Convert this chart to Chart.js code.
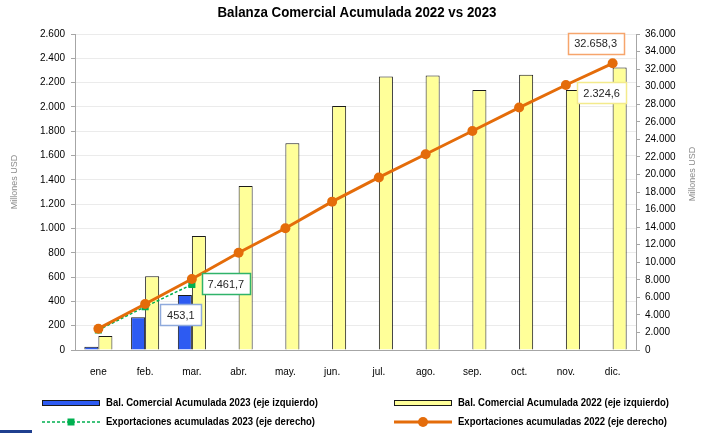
<!DOCTYPE html>
<html>
<head>
<meta charset="utf-8">
<script src="https://cdn.jsdelivr.net/npm/chart.js@4.4.1/dist/chart.umd.min.js"></script>
<style>
    html, body { margin: 0; padding: 0; background: #ffffff; }
    #wrap { position: relative; width: 707px; height: 433px; }
    #corner { position: absolute; left: 0; top: 430px; width: 32px; height: 3px; background: #1f3f8f; }
</style>
</head>
<body>
<div id="wrap">
    <canvas id="balanzaChart" width="707" height="433"></canvas>
    <div id="corner"></div>
</div>
<script>
// Datos (millones USD)
const months = ["ene", "feb.", "mar.", "abr.", "may.", "jun.", "jul.", "ago.", "sep.", "oct.", "nov.", "dic."];
const balanza2023 = [27, 269, 453.1];
const balanza2022 = [115, 607, 938, 1350, 1702, 2008, 2250, 2258, 2140, 2265, 2140, 2324.6];
const export2023 = [2280, 4930, 7461.7];
const export2022 = [2430, 5240, 8090, 11080, 13870, 16900, 19660, 22300, 24950, 27620, 30190, 32658.3];

const leftTicks = { min: 0, max: 2600, step: 200 };
const rightTicks = { min: 0, max: 36000, step: 2000 };

const FONT = "Arial, 'Liberation Sans', sans-serif";

// 1.234,5 style
function fmt(v, dec) {
    const parts = v.toFixed(dec).split(".");
    parts[0] = parts[0].replace(/\B(?=(\d{3})+(?!\d))/g, ".");
    return parts.join(",");
}

// Callout labels: dataset index, point index, offset from element, border colour
const callouts = [
    { ds: 0, i: 2, dx: -4, dy: 20, w: 41, border: "#8faadc" },
    { ds: 2, i: 2, dx: 34, dy: -1, w: 48, border: "#2fb36a" },
    { ds: 3, i: 11, dx: -17, dy: -20, w: 56, border: "#f6a56c" },
    { ds: 1, i: 11, dx: -18, dy: 25, w: 49, border: "#f3ea8c" },
];

const extrasPlugin = {
    id: "extras",
    afterDraw(chart) {
        const c = chart.ctx;
        c.save();

        // title
        c.fillStyle = "#000000";
        c.font = "bold 14px " + FONT;
        c.textAlign = "center";
        c.textBaseline = "middle";
        c.fillText("Balanza Comercial Acumulada 2022 vs 2023", 357, 13, 279);

        // axis titles
        c.font = "9px " + FONT;
        c.fillStyle = "#8c8c8c";
        [[15, 182], [693, 174]].forEach(([x, y]) => {
            c.save();
            c.translate(x, y);
            c.rotate(-Math.PI / 2);
            c.fillText("Millones USD", 0, 0);
            c.restore();
        });

        // callouts
        c.font = "11px " + FONT;
        callouts.forEach((co) => {
            const el = chart.getDatasetMeta(co.ds).data[co.i];
            const value = chart.data.datasets[co.ds].data[co.i];
            const cx = el.x + co.dx;
            const cy = el.y + co.dy;
            const h = 21;
            c.fillStyle = "#ffffff";
            c.fillRect(cx - co.w / 2, cy - h / 2, co.w, h);
            c.strokeStyle = co.border;
            c.lineWidth = 1.5;
            c.strokeRect(Math.round(cx - co.w / 2) + 0.5, Math.round(cy - h / 2) + 0.5, co.w, h);
            c.fillStyle = "#262626";
            c.textAlign = "center";
            c.fillText(fmt(value, 1), cx, cy + 1);
        });

        // legend
        const ds = chart.data.datasets;
        const items = [
            { d: ds[0], x: 42, y: 403, tw: 212, kind: "bar" },
            { d: ds[1], x: 394, y: 403, tw: 211, kind: "bar" },
            { d: ds[2], x: 42, y: 422, tw: 209, kind: "line" },
            { d: ds[3], x: 394, y: 422, tw: 209, kind: "line" },
        ];
        items.forEach((it) => {
            if (it.kind === "bar") {
                c.fillStyle = it.d.backgroundColor;
                c.fillRect(it.x, it.y - 2.5, 58, 5);
                c.strokeStyle = "#1a1a1a";
                c.lineWidth = 1;
                c.strokeRect(it.x + 0.5, it.y - 2.5, 57, 5);
            } else {
                c.strokeStyle = it.d.borderColor;
                c.lineWidth = it.d.borderWidth;
                c.setLineDash(it.d.borderDash || []);
                c.beginPath();
                c.moveTo(it.x, it.y);
                c.lineTo(it.x + 58, it.y);
                c.stroke();
                c.setLineDash([]);
                c.fillStyle = it.d.pointBackgroundColor;
                c.beginPath();
                if (it.d.pointStyle === "rect") {
                    c.rect(it.x + 25.5, it.y - 3.5, 7, 7);
                } else {
                    c.arc(it.x + 29, it.y, 5, 0, Math.PI * 2);
                }
                c.fill();
            }
            c.fillStyle = "#000000";
            c.font = "bold 10px " + FONT;
            c.textAlign = "left";
            c.textBaseline = "middle";
            c.fillText(it.d.label, it.x + 64, it.y, it.tw);
        });

        c.restore();
    },
};

const chartCtx = document.getElementById("balanzaChart");
new Chart(chartCtx.getContext("2d"), {
    data: {
        labels: months,
        datasets: [
            {
                type: "bar",
                label: "Bal. Comercial Acumulada 2023 (eje izquierdo)",
                data: balanza2023,
                yAxisID: "y",
                backgroundColor: "#2d5bf2",
                borderColor: "#1a1a1a",
                borderWidth: 1,
                order: 3,
            },
            {
                type: "bar",
                label: "Bal. Comercial Acumulada 2022 (eje izquierdo)",
                data: balanza2022,
                yAxisID: "y",
                backgroundColor: "#ffff99",
                borderColor: "#1a1a1a",
                borderWidth: 1,
                order: 3,
            },
            {
                type: "line",
                label: "Exportaciones acumuladas 2023 (eje derecho)",
                data: export2023,
                yAxisID: "y1",
                borderColor: "#00b050",
                borderWidth: 1.5,
                borderDash: [3, 2],
                pointStyle: "rect",
                pointRadius: 5,
                pointBackgroundColor: "#00b050",
                pointBorderWidth: 0,
                tension: 0,
                order: 2,
            },
            {
                type: "line",
                label: "Exportaciones acumuladas 2022 (eje derecho)",
                data: export2022,
                yAxisID: "y1",
                borderColor: "#e46c0a",
                borderWidth: 3,
                pointStyle: "circle",
                pointRadius: 5,
                pointBackgroundColor: "#e46c0a",
                pointBorderWidth: 0,
                tension: 0,
                order: 1,
            },
        ],
    },
    options: {
        responsive: false,
        animation: false,
        devicePixelRatio: 1,
        layout: {
            padding: { top: 34, bottom: 53, left: 0, right: 0 },
        },
        datasets: {
            bar: {
                categoryPercentage: 0.6,
                barPercentage: 1,
            },
        },
        plugins: {
            legend: { display: false },
            title: { display: false },
            tooltip: { enabled: false },
        },
        scales: {
            x: {
                grid: { display: false },
                border: { color: "#a6a6a6" },
                ticks: {
                    padding: 8,
                    color: "#000000",
                    font: { size: 10, family: FONT },
                },
                afterFit(scale) {
                    scale.height = 30;
                },
            },
            y: {
                position: "left",
                min: leftTicks.min,
                max: leftTicks.max,
                grid: {
                    color: "#ebebeb",
                    tickColor: "#a6a6a6",
                    tickLength: 4,
                },
                border: { color: "#a6a6a6" },
                ticks: {
                    stepSize: leftTicks.step,
                    padding: 6,
                    color: "#000000",
                    font: { size: 10, family: FONT },
                    callback: (v) => fmt(v, 0),
                },
                afterFit(scale) {
                    scale.width = 75;
                },
            },
            y1: {
                position: "right",
                min: rightTicks.min,
                max: rightTicks.max,
                grid: {
                    drawOnChartArea: false,
                    tickColor: "#a6a6a6",
                    tickLength: 4,
                },
                border: { color: "#a6a6a6" },
                ticks: {
                    stepSize: rightTicks.step,
                    padding: 5,
                    color: "#000000",
                    font: { size: 10, family: FONT },
                    callback: (v) => fmt(v, 0),
                },
                afterFit(scale) {
                    scale.width = 71;
                },
            },
        },
    },
    plugins: [extrasPlugin],
});
</script>
</body>
</html>
